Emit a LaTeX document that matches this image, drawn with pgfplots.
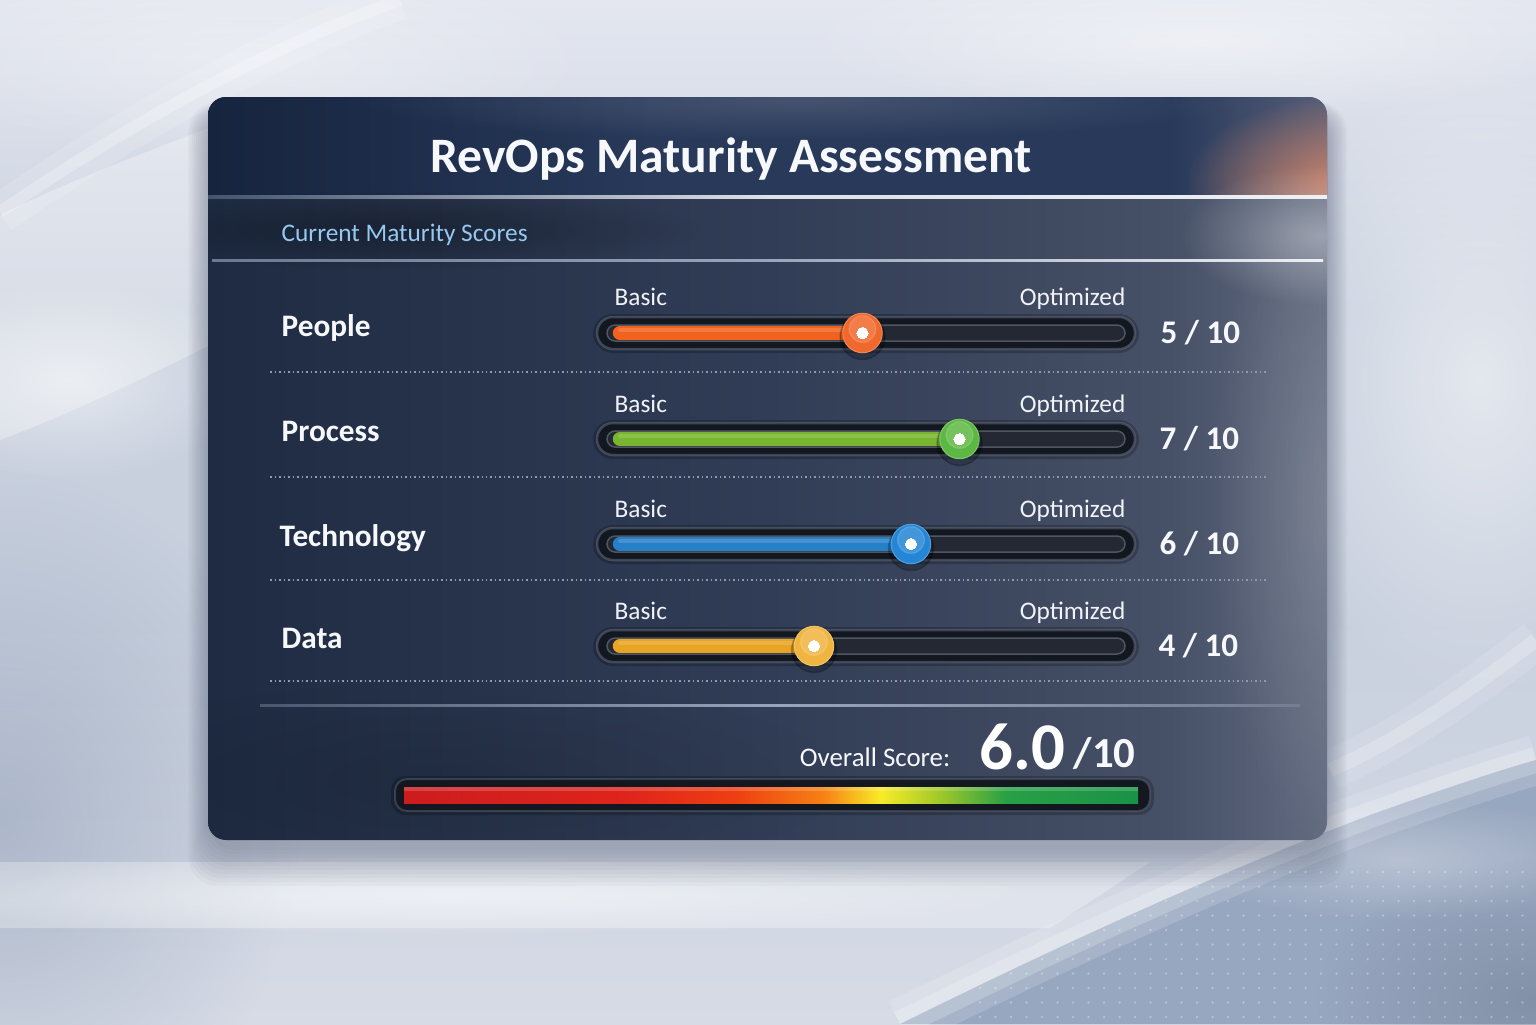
\documentclass[border=0pt]{standalone}
\usepackage{pgfplots}
\pgfplotsset{compat=1.18}
\usepackage{pgfplotstable}
\usetikzlibrary{fadings}
\usepackage{fontspec}
\setmainfont{Carlito}

\tikzfading[name=fade out, inner color=transparent!0, outer color=transparent!100]

\definecolor{bgTop}{RGB}{228,231,240}
\definecolor{bgMid}{RGB}{200,208,222}
\definecolor{bgBot}{RGB}{214,219,230}
\definecolor{bgDark}{RGB}{130,146,172}
\definecolor{bgBR}{RGB}{152,167,192}
\definecolor{shadowc}{RGB}{55,65,90}
\definecolor{panelL}{RGB}{30,43,66}
\definecolor{panelM}{RGB}{49,61,86}
\definecolor{panelR0}{RGB}{70,80,102}
\definecolor{panelR}{RGB}{98,107,128}
\definecolor{headL}{RGB}{22,36,62}
\definecolor{headM}{RGB}{40,57,90}
\definecolor{headR}{RGB}{86,94,120}
\definecolor{glowOr}{RGB}{210,132,102}
\definecolor{subblue}{RGB}{150,200,240}
\definecolor{txt}{RGB}{246,248,252}
\definecolor{sep}{RGB}{140,154,178}
\definecolor{trackout}{RGB}{18,23,32}
\definecolor{trackrim}{RGB}{90,100,118}
\definecolor{trackin}{RGB}{36,40,50}
\definecolor{trackedge}{RGB}{78,86,98}
\definecolor{cPeople}{RGB}{240,98,30}
\definecolor{cProcess}{RGB}{120,182,48}
\definecolor{cTech}{RGB}{38,128,200}
\definecolor{cData}{RGB}{232,165,35}
\definecolor{kPeople}{RGB}{240,104,44}
\definecolor{kProcess}{RGB}{92,184,66}
\definecolor{kTech}{RGB}{36,134,214}
\definecolor{kData}{RGB}{240,180,64}
\definecolor{sbR}{RGB}{205,28,30}
\definecolor{sbR2}{RGB}{222,36,28}
\definecolor{sbO1}{RGB}{238,62,18}
\definecolor{sbO}{RGB}{246,128,20}
\definecolor{sbY}{RGB}{248,236,40}
\definecolor{sbYG}{RGB}{160,200,40}
\definecolor{sbG}{RGB}{40,160,70}
\definecolor{sbG2}{RGB}{26,146,70}

\pgfdeclarehorizontalshading{scorebar}{100bp}{color(0bp)=(sbR); color(25bp)=(sbR); color(40bp)=(sbR2); color(47.5bp)=(sbO1); color(53.5bp)=(sbO); color(57.5bp)=(sbY); color(61.5bp)=(sbYG); color(66bp)=(sbG); color(75bp)=(sbG2); color(100bp)=(sbG2)}
\pgfdeclarehorizontalshading{panelbody}{100bp}{color(0bp)=(panelL); color(25bp)=(panelL); color(50bp)=(panelM); color(68bp)=(panelR0); color(75bp)=(panelR); color(100bp)=(panelR)}
\pgfdeclarehorizontalshading{panelhead}{100bp}{color(0bp)=(headL); color(25bp)=(headL); color(45bp)=(headM); color(68bp)=(headM); color(75bp)=(headR); color(100bp)=(headR)}
\pgfdeclareverticalshading{bgshade}{100bp}{color(0bp)=(bgBot); color(25bp)=(bgBot); color(45bp)=(bgMid); color(60bp)=(bgMid); color(75bp)=(bgTop); color(100bp)=(bgTop)}

\pgfplotstableread{
cat        score ypix
People     5     333
Process    7     439
Technology 6     544
Data       4     646
}\scores

\begin{document}
\begin{tikzpicture}
% ---------- pixel-coordinate axis: background, panel, text ----------
\begin{axis}[width=15.36cm, height=10.24cm, scale only axis, hide axis,
  xmin=0, xmax=1536, ymin=0, ymax=1024, y dir=reverse, clip=false]
\begin{scope}
\clip (axis cs:0,0) rectangle (axis cs:1536,1024);
% background
\shade[shading=bgshade] (axis cs:0,0) rectangle (axis cs:1536,1024);
\fill[bgDark, opacity=0.45, path fading=fade out] (axis cs:0,820) ellipse [x radius=30mm, y radius=35mm];
% left bright band
\fill[white, opacity=0.3] (axis cs:0,440) .. controls (axis cs:80,410) and (axis cs:160,370) .. (axis cs:230,335)
   -- (axis cs:230,120) .. controls (axis cs:150,150) and (axis cs:60,185) .. (axis cs:0,215) -- cycle;
\fill[white, opacity=0.5, path fading=fade out] (axis cs:70,380) ellipse [x radius=18mm, y radius=10mm];
% top-left arc (soft)
\draw[white, opacity=0.12, line width=4mm] (axis cs:0,214) .. controls (axis cs:120,130) and (axis cs:260,50) .. (axis cs:400,0);
\draw[white, opacity=0.25, line width=1.2mm] (axis cs:0,212) .. controls (axis cs:120,130) and (axis cs:260,50) .. (axis cs:400,0);
\fill[white, opacity=0.35, path fading=fade out] (axis cs:250,60) ellipse [x radius=35mm, y radius=10mm];
\fill[white, opacity=0.5, path fading=fade out] (axis cs:1480,380) ellipse [x radius=22mm, y radius=32mm];
\fill[white, opacity=0.45, path fading=fade out] (axis cs:1200,40) ellipse [x radius=40mm, y radius=8mm];
% bottom light band under panel
\fill[white, opacity=0.3] (axis cs:0,862) -- (axis cs:1150,862) -- (axis cs:1050,928) -- (axis cs:0,928) -- cycle;
\fill[white, opacity=0.45, path fading=fade out] (axis cs:450,895) ellipse [x radius=60mm, y radius=4mm];
% bottom-right darker region
\fill[bgBR] (axis cs:900,1024) .. controls (axis cs:1050,950) and (axis cs:1200,880) .. (axis cs:1370,815)
   .. controls (axis cs:1440,790) and (axis cs:1500,770) .. (axis cs:1536,760) -- (axis cs:1536,1024) -- cycle;
\fill[bgDark!80!black, opacity=0.45, path fading=fade out] (axis cs:1536,1000) ellipse [x radius=22mm, y radius=14mm];
\fill[white, opacity=0.3, path fading=fade out] (axis cs:1400,860) ellipse [x radius=22mm, y radius=6mm];
% soft swooshes
\draw[white, opacity=0.14, line width=5mm] (axis cs:900,1024) .. controls (axis cs:1050,950) and (axis cs:1200,880) .. (axis cs:1370,815)
   .. controls (axis cs:1440,790) and (axis cs:1500,770) .. (axis cs:1536,760);
\draw[white, opacity=0.2, line width=2.6mm] (axis cs:900,1024) .. controls (axis cs:1050,950) and (axis cs:1200,880) .. (axis cs:1370,815)
   .. controls (axis cs:1440,790) and (axis cs:1500,770) .. (axis cs:1536,760);
\draw[white, opacity=0.1, line width=4mm] (axis cs:1330,770) .. controls (axis cs:1400,740) and (axis cs:1470,690) .. (axis cs:1536,640);
\draw[white, opacity=0.2, line width=1.4mm] (axis cs:1330,770) .. controls (axis cs:1400,740) and (axis cs:1470,690) .. (axis cs:1536,640);
% panel shadow
\pgfplotsinvokeforeach{1,...,10}{
  \fill[shadowc, opacity=0.035, rounded corners=3mm] (axis cs:{208-2*#1},{112-1*#1}) rectangle (axis cs:{1327+2*#1},{846+4*#1});
}
\end{scope}
% panel
\shade[shading=panelbody, rounded corners=1.8mm] (axis cs:208,97) rectangle (axis cs:1327,840);
\begin{scope}
\clip[rounded corners=1.8mm] (axis cs:208,97) rectangle (axis cs:1327,840);
\shade[shading=panelhead] (axis cs:208,97) rectangle (axis cs:1327,197);
\begin{scope}
\clip (axis cs:208,97) rectangle (axis cs:1327,196);
\fill[glowOr, opacity=0.95, path fading=fade out] (axis cs:1345,185) ellipse [x radius=16mm, y radius=9mm];
\fill[headR!70!white, opacity=0.3, path fading=fade out] (axis cs:800,100) ellipse [x radius=45mm, y radius=4mm];
\end{scope}
\fill[black, opacity=0.3, path fading=fade out] (axis cs:400,230) ellipse [x radius=30mm, y radius=4mm];
\fill[white, opacity=0.35, path fading=fade out] (axis cs:1320,235) ellipse [x radius=14mm, y radius=7mm];
\fill[white, opacity=0.16, path fading=fade out] (axis cs:1330,500) ellipse [x radius=12mm, y radius=35mm];
\fill[black, opacity=0.12, path fading=fade out] (axis cs:450,780) ellipse [x radius=40mm, y radius=10mm];
\end{scope}
% header lines
\shade[left color=sep!40!headL, right color=white!85!sep, middle color=white!70!sep] (axis cs:208,195.5) rectangle (axis cs:1327,198.5);
\shade[left color=sep!70!panelL, right color=white!85!sep, middle color=sep!90!white] (axis cs:212,259.5) rectangle (axis cs:1323,261.5);
\shade[left color=sep!40!panelL, right color=sep!40!panelR, middle color=sep!90!white] (axis cs:260,704) rectangle (axis cs:1300,706.5);
% dotted separators
\pgfplotsinvokeforeach{372,477,580,681}{
  \draw[sep, line width=0.15mm, dash pattern=on 0.15mm off 0.3mm] (axis cs:270,#1) -- (axis cs:1267,#1);
}
% slider tracks
\pgfplotsinvokeforeach{333,439,544,646}{
  \fill[black, opacity=0.22, rounded corners=2mm] (axis cs:593,{#1-19}) rectangle (axis cs:1139,{#1+20});
  \fill[trackout, rounded corners=1.6mm] (axis cs:597,{#1-16}) rectangle (axis cs:1135,{#1+16});
  \draw[trackrim, opacity=0.6, line width=0.25mm, rounded corners=1.6mm] (axis cs:597,{#1-16}) rectangle (axis cs:1135,{#1+16});
  \fill[trackin, rounded corners=0.8mm] (axis cs:607,{#1-8}) rectangle (axis cs:1125,{#1+8});
  \draw[trackedge, line width=0.15mm, rounded corners=0.8mm] (axis cs:607,{#1-8}) rectangle (axis cs:1125,{#1+8});
}
% overall bar container
\fill[black, opacity=0.22, rounded corners=1.5mm] (axis cs:391,776) rectangle (axis cs:1154,815);
\fill[trackout, rounded corners=1.2mm] (axis cs:395,779) rectangle (axis cs:1150,811);
\draw[trackrim, opacity=0.5, line width=0.2mm, rounded corners=1.2mm] (axis cs:395,779) rectangle (axis cs:1150,811);
\addplot[draw=none, shading=scorebar] coordinates {(404,787) (1138,787) (1138,803) (404,803)} -- cycle;
\fill[white, opacity=0.18] (axis cs:404,787) rectangle (axis cs:1138,791);
% texts
\node[anchor=base, text=txt, font=\fontsize{14.1}{16}\selectfont\bfseries, inner sep=0pt] at (axis cs:731,172) {RevOps Maturity Assessment};
\node[anchor=base west, text=subblue, font=\fontsize{7.2}{9}\selectfont, inner sep=0pt] at (axis cs:281,241) {Current Maturity Scores};
\node[anchor=base west, text=txt, font=\fontsize{8.9}{10}\selectfont\bfseries, inner sep=0pt] at (axis cs:281,336) {People};
\node[anchor=base west, text=txt, font=\fontsize{8.9}{10}\selectfont\bfseries, inner sep=0pt] at (axis cs:281,441) {Process};
\node[anchor=base west, text=txt, font=\fontsize{8.9}{10}\selectfont\bfseries, inner sep=0pt] at (axis cs:279,546) {Technology};
\node[anchor=base west, text=txt, font=\fontsize{8.9}{10}\selectfont\bfseries, inner sep=0pt] at (axis cs:281,648) {Data};
\pgfplotsinvokeforeach{305,412,517,619}{
  \node[anchor=base west, text=txt!95!sep, font=\fontsize{7.2}{9}\selectfont, inner sep=0pt] at (axis cs:614,#1) {Basic};
  \node[anchor=base east, text=txt!95!sep, font=\fontsize{7.2}{9}\selectfont, inner sep=0pt] at (axis cs:1126,#1) {Optimized};
}
\node[anchor=base west, text=txt, font=\fontsize{9.4}{11}\selectfont\bfseries, inner sep=0pt] at (axis cs:1160,343) {5 / 10};
\node[anchor=base west, text=txt, font=\fontsize{9.4}{11}\selectfont\bfseries, inner sep=0pt] at (axis cs:1159,449) {7 / 10};
\node[anchor=base west, text=txt, font=\fontsize{9.4}{11}\selectfont\bfseries, inner sep=0pt] at (axis cs:1159,554) {6 / 10};
\node[anchor=base west, text=txt, font=\fontsize{9.4}{11}\selectfont\bfseries, inner sep=0pt] at (axis cs:1158,656) {4 / 10};
\node[anchor=base east, text=txt, font=\fontsize{7.65}{9}\selectfont, inner sep=0pt] at (axis cs:951,766) {Overall Score:};
\node[anchor=base west, text=white, font=\fontsize{19}{21}\selectfont\bfseries, inner sep=0pt] at (axis cs:979,769) {6.0};
\node[anchor=base west, text=txt, font=\fontsize{12.2}{14}\selectfont\bfseries, inner sep=0pt] at (axis cs:1073,767) {/10};
\end{axis}
% ---------- score axis: the sliders (x in score units 0..10) ----------
\begin{axis}[width=15.36cm, height=10.24cm, scale only axis, hide axis,
  xmin=-12.7835, xmax=18.8866, ymin=0, ymax=1024, y dir=reverse, clip=false]
% bars
\addplot[cPeople, line width=1.45mm, line cap=round] coordinates {(0,333) (5,333)};
\addplot[cProcess, line width=1.45mm, line cap=round] coordinates {(0,439) (7,439)};
\addplot[cTech, line width=1.45mm, line cap=round] coordinates {(0,544) (6,544)};
\addplot[cData, line width=1.45mm, line cap=round] coordinates {(0,646) (4,646)};
% bar highlights
\addplot[white, opacity=0.15, line width=0.4mm, line cap=round] coordinates {(0,330) (5,330)};
\addplot[white, opacity=0.15, line width=0.4mm, line cap=round] coordinates {(0,436) (7,436)};
\addplot[white, opacity=0.15, line width=0.4mm, line cap=round] coordinates {(0,541) (6,541)};
\addplot[white, opacity=0.15, line width=0.4mm, line cap=round] coordinates {(0,643) (4,643)};
% knob shadows
\addplot[black, only marks, mark=*, mark size=6.4pt, mark options={draw=none, fill=black, opacity=0.22}] table[x=score, y expr=\thisrow{ypix}+4] {\scores};
% knobs
\addplot[kPeople, only marks, mark=*, mark size=5.6pt, mark options={draw=kPeople!80!white, line width=0.3pt, fill=kPeople}] coordinates {(5,333)};
\addplot[kProcess, only marks, mark=*, mark size=5.6pt, mark options={draw=kProcess!80!white, line width=0.3pt, fill=kProcess}] coordinates {(7,439)};
\addplot[kTech, only marks, mark=*, mark size=5.6pt, mark options={draw=kTech!80!white, line width=0.3pt, fill=kTech}] coordinates {(6,544)};
\addplot[kData, only marks, mark=*, mark size=5.6pt, mark options={draw=kData!80!white, line width=0.3pt, fill=kData}] coordinates {(4,646)};
% knob highlights and centre dots
\addplot[white, only marks, mark=*, mark size=3.8pt, mark options={draw=none, fill=white, opacity=0.14}] table[x=score, y expr=\thisrow{ypix}-4] {\scores};
\addplot[white, only marks, mark=*, mark size=1.6pt, mark options={draw=white, fill=white, line width=0pt}] table[x=score, y=ypix] {\scores};
\end{axis}
% dotted texture in the lower right corner of the background (1px = 0.1mm, y from top)
\begin{scope}[x=0.1mm, y=-0.1mm, shift={(0,10.24cm)}]
\clip (900,1024) .. controls (1050,950) and (1200,880) .. (1370,815)
   .. controls (1440,790) and (1500,770) .. (1536,760) -- (1536,1024) -- cycle;
\foreach \r in {0,...,10}{
  \foreach \c in {0,...,36}{
    \fill[white, opacity=0.3] ({980+15.5*\c},{872+14.5*\r}) circle[radius=0.13mm];
  }
}
\end{scope}
\pgfresetboundingbox
\path[use as bounding box] (0,0) rectangle (15.36cm,10.24cm);
\end{tikzpicture}
\end{document}
